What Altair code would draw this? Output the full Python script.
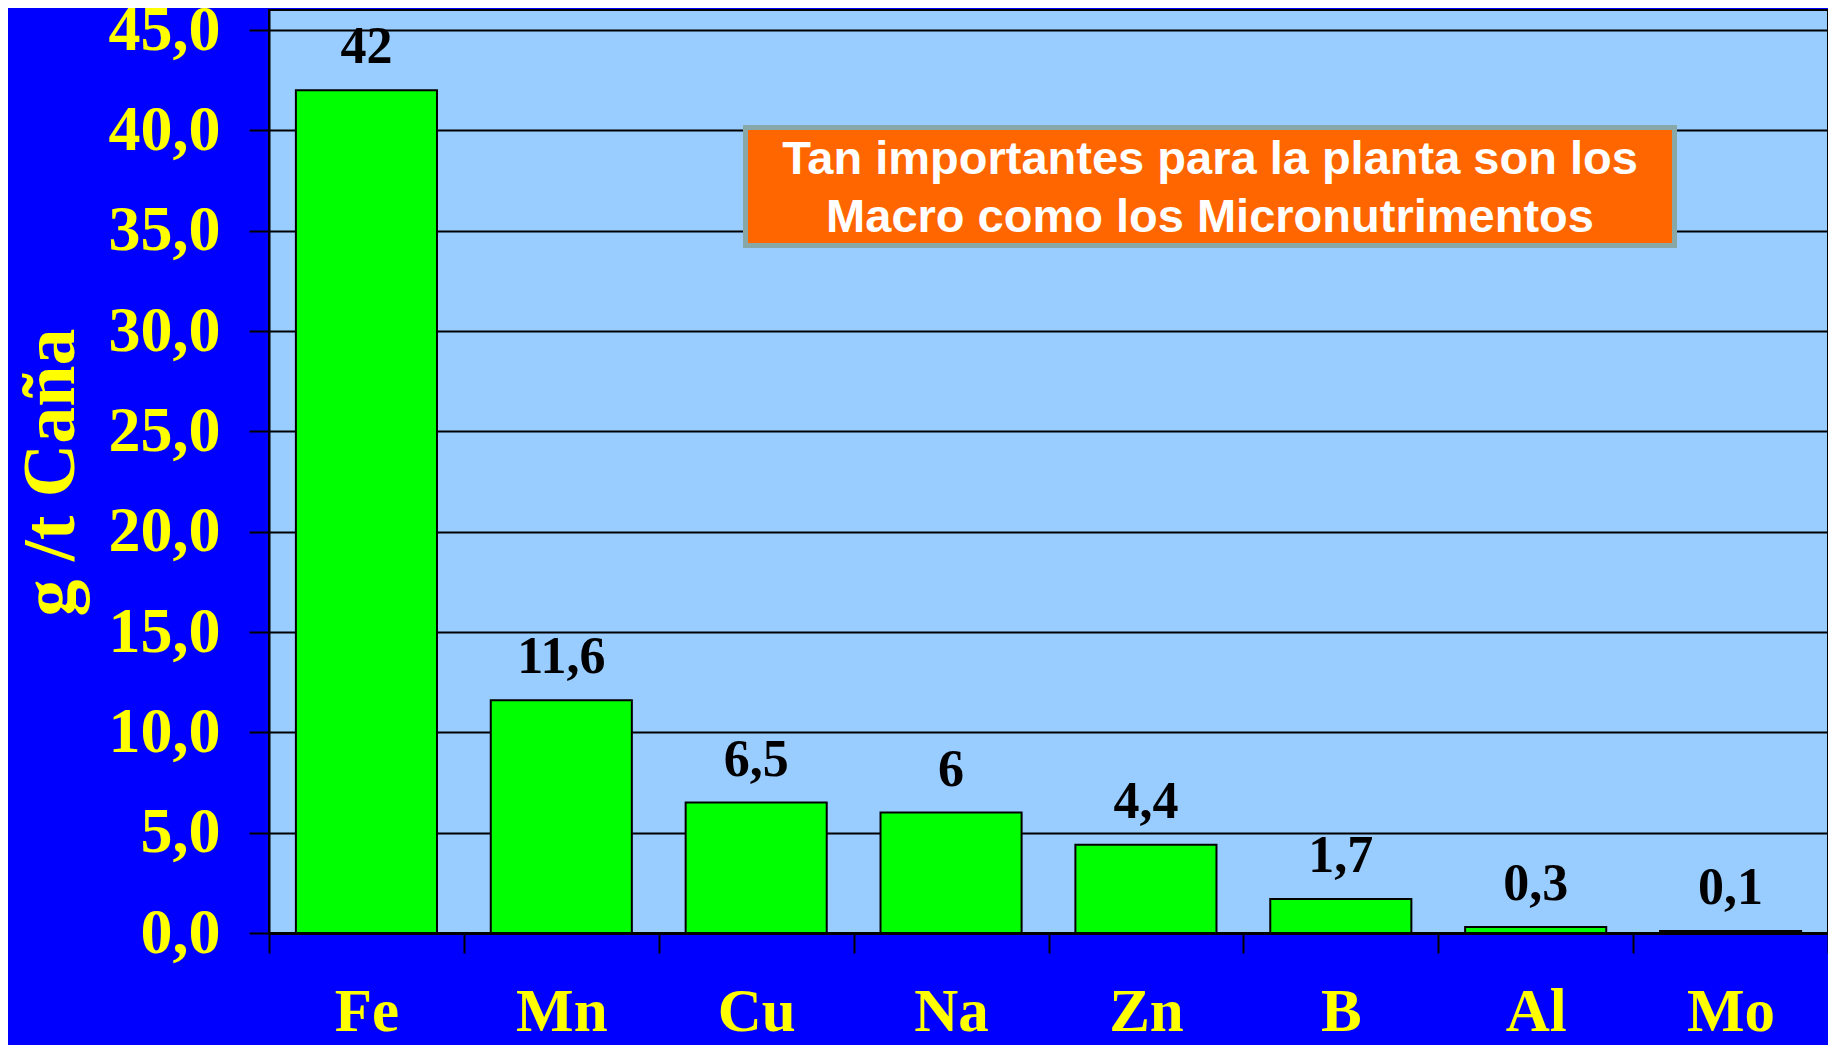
import altair as alt
import pandas as pd

elements = ["Fe", "Mn", "Cu", "Na", "Zn", "B", "Al", "Mo"]
values = [42, 11.6, 6.5, 6, 4.4, 1.7, 0.3, 0.1]
value_labels = ["42", "11,6", "6,5", "6", "4,4", "1,7", "0,3", "0,1"]
y_ticks = [0, 5, 10, 15, 20, 25, 30, 35, 40, 45]
y_title = "g /t Caña"
note_lines = ["Tan importantes para la planta son los", "Macro como los Micronutrimentos"]

df = pd.DataFrame({"el": elements, "val": values, "lab": value_labels})

W, H = 1559, 923
SERIF = "Liberation Serif"
YELLOW = "#FFFF00"

x_enc = alt.X(
    "el:N",
    sort=elements,
    scale=alt.Scale(paddingInner=0, paddingOuter=0),
    axis=alt.Axis(
        title=None, labelAngle=0, labelFont=SERIF, labelFontWeight="bold",
        labelFontSize=61, labelColor=YELLOW, labelBaseline="alphabetic",
        labelPadding=77, tickSize=20, tickColor="black", tickWidth=2,
        tickBand="extent", domainColor="black", domainWidth=3, grid=False,
    ),
)
y_enc = alt.Y(
    "val:Q",
    scale=alt.Scale(domain=[0, 46], nice=False, zero=True),
    axis=alt.Axis(
        values=y_ticks,
        labelExpr="replace(format(datum.value, '.1f'), '.', ',')",
        labelFont=SERIF, labelFontWeight="bold", labelFontSize=64,
        labelColor=YELLOW, labelPadding=29, tickSize=20, tickColor="black",
        tickWidth=2, domainColor="black", domainWidth=2,
        grid=True, gridColor="black", gridWidth=2, gridOpacity=1,
        title=y_title, titleFont=SERIF, titleFontWeight="bold",
        titleFontSize=74, titleColor=YELLOW, titleAngle=270,
        titleX=-196, titleY=462, titleAlign="center",
        titleBaseline="alphabetic",
    ),
)

base = alt.Chart(df)
bars = base.mark_bar(
    color="#00FF00", stroke="black", strokeWidth=2,
    width=alt.RelativeBandSize(0.724),
).encode(x=x_enc, y=y_enc)
labels = base.mark_text(
    dy=-27, baseline="alphabetic", align="center", font=SERIF,
    fontWeight="bold", fontSize=52, color="black",
).encode(x=alt.X("el:N", sort=elements), y=alt.Y("val:Q"), text="lab:N")

one = pd.DataFrame({"k": [0]})
box = alt.Chart(one).mark_rect(fill="#FF6600", stroke="#88A8A8", strokeWidth=5).encode(
    x=alt.value(476.5), x2=alt.value(1405.5), y=alt.value(117.5), y2=alt.value(235.5)
)
note = alt.Chart(one).mark_text(
    font="Liberation Sans", fontWeight="bold", fontSize=47, color="white",
    align="center", baseline="middle", lineHeight=58,
).encode(x=alt.value(941), y=alt.value(150), text=alt.value(note_lines))

chart = alt.layer(bars, labels, box, note).properties(
    width=W, height=H,
    background="#0000FF",
    padding={"left": 261, "top": 2, "right": 0, "bottom": 112},
    autosize=alt.AutoSizeParams(type="none"),
).configure_view(fill="#99CCFF", stroke="black", strokeWidth=2)

chart.save("out.html", embed_options={"renderer": "svg", "actions": False})
